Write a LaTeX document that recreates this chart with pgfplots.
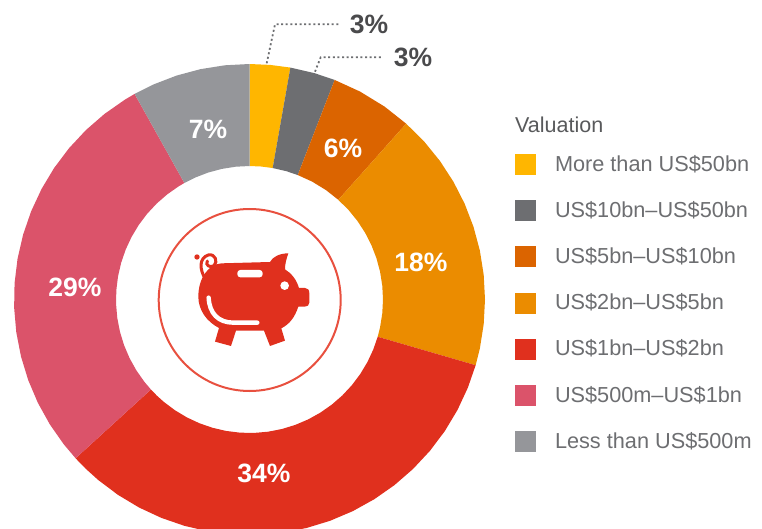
\documentclass[border=0pt]{standalone}
\usepackage{fontspec}
\setmainfont{Liberation Sans}
\usepackage{pgfplots}
\pgfplotsset{compat=1.18}
\usepgfplotslibrary{polar}
\definecolor{cgold}{HTML}{FFB600}
\definecolor{cslate}{HTML}{6D6E71}
\definecolor{cdorange}{HTML}{DB6400}
\definecolor{corange}{HTML}{EB8C00}
\definecolor{cred}{HTML}{E0301E}
\definecolor{cpink}{HTML}{DB536A}
\definecolor{cgrey}{HTML}{95969A}
\definecolor{cring}{HTML}{E8503F}
\definecolor{ctext}{HTML}{6D6E71}
\definecolor{ctitle}{HTML}{58595B}
\definecolor{clabel}{HTML}{4A4A4C}
\begin{document}
\begin{tikzpicture}[x=1pt,y=1pt]
\useasboundingbox (0,0) rectangle (762,528);
\clip (0,0) rectangle (762,528);
\begin{polaraxis}[
  at={(14pt,-7pt)}, anchor=south west,
  scale only axis, width=471pt, height=471pt,
  hide axis, clip=false,
  xmin=0, xmax=360, ymin=0, ymax=235.5,
  legend image code/.code={\fill[#1] (0pt,-8pt) rectangle (21pt,13pt);},
  legend cell align=left,
  legend style={
    at={(1.0637,0.8089)}, anchor=north west,
    draw=none, fill=none, inner sep=0pt, outer sep=0pt,
    row sep=21.2pt, column sep=19pt,
    font=\fontsize{21.7}{25}\selectfont, text=ctext,
    nodes={inner sep=0pt, outer sep=0pt, text height=16pt, text depth=8pt}
  },
]
\addplot[fill=cgold,draw=none] coordinates {(90,235.5)(85,235.5)(80,235.5)(80,133.5)(85,133.5)(90,133.5)};
\addlegendentry{More than US\$50bn}
\addplot[fill=cslate,draw=none] coordinates {(80,235.5)(74,235.5)(68.8,235.5)(68.8,133.5)(74,133.5)(80,133.5)};
\addlegendentry{US\$10bn–US\$50bn}
\addplot[fill=cdorange,draw=none] coordinates {(68.8,235.5)(62,235.5)(55,235.5)(48.3,235.5)(48.3,133.5)(55,133.5)(62,133.5)(68.8,133.5)};
\addlegendentry{US\$5bn–US\$10bn}
\addplot[fill=corange,draw=none] coordinates {(48.3,235.5)(42,235.5)(36,235.5)(30,235.5)(24,235.5)(18,235.5)(12,235.5)(6,235.5)(0,235.5)(-6,235.5)(-12,235.5)(-16.2,235.5)(-16.2,133.5)(-12,133.5)(-6,133.5)(0,133.5)(6,133.5)(12,133.5)(18,133.5)(24,133.5)(30,133.5)(36,133.5)(42,133.5)(48.3,133.5)};
\addlegendentry{US\$2bn–US\$5bn}
\addplot[fill=cred,draw=none] coordinates {(-16.2,235.5)(-22,235.5)(-28,235.5)(-34,235.5)(-40,235.5)(-46,235.5)(-52,235.5)(-58,235.5)(-64,235.5)(-70,235.5)(-76,235.5)(-82,235.5)(-88,235.5)(-94,235.5)(-100,235.5)(-106,235.5)(-112,235.5)(-118,235.5)(-124,235.5)(-130,235.5)(-134,235.5)(-137.6,235.5)(-137.6,133.5)(-134,133.5)(-130,133.5)(-124,133.5)(-118,133.5)(-112,133.5)(-106,133.5)(-100,133.5)(-94,133.5)(-88,133.5)(-82,133.5)(-76,133.5)(-70,133.5)(-64,133.5)(-58,133.5)(-52,133.5)(-46,133.5)(-40,133.5)(-34,133.5)(-28,133.5)(-22,133.5)(-16.2,133.5)};
\addlegendentry{US\$1bn–US\$2bn}
\addplot[fill=cpink,draw=none] coordinates {(-137.6,235.5)(-142,235.5)(-148,235.5)(-154,235.5)(-160,235.5)(-166,235.5)(-172,235.5)(-178,235.5)(-184,235.5)(-190,235.5)(-196,235.5)(-202,235.5)(-208,235.5)(-214,235.5)(-220,235.5)(-226,235.5)(-232,235.5)(-238,235.5)(-240.8,235.5)(-240.8,133.5)(-238,133.5)(-232,133.5)(-226,133.5)(-220,133.5)(-214,133.5)(-208,133.5)(-202,133.5)(-196,133.5)(-190,133.5)(-184,133.5)(-178,133.5)(-172,133.5)(-166,133.5)(-160,133.5)(-154,133.5)(-148,133.5)(-142,133.5)(-137.6,133.5)};
\addlegendentry{US\$500m–US\$1bn}
\addplot[fill=cgrey,draw=none] coordinates {(-240.8,235.5)(-246,235.5)(-252,235.5)(-258,235.5)(-264,235.5)(-270,235.5)(-270,133.5)(-264,133.5)(-258,133.5)(-252,133.5)(-246,133.5)(-240.8,133.5)};
\addlegendentry{Less than US\$500m}
\end{polaraxis}
% ring
\draw[cring,line width=2pt] (249.7,228) circle (91);
% pig icon (coordinates from a 3x crop)
\begin{scope}[shift={(150,328)},x=0.3333pt,y=-0.3333pt]
  \fill[cred] (215,190) -- (360,186)
    .. controls (368,170) and (390,160) .. (415,160)
    .. controls (410,175) and (405,190) .. (405,208)
    .. controls (425,220) and (440,240) .. (447,264)
    -- (465,264) .. controls (474,264) and (478,270) .. (478,280)
    -- (478,308) .. controls (478,316) and (472,320) .. (464,320)
    -- (445,320)
    .. controls (435,350) and (420,372) .. (394,385)
    -- (405,422) -- (360,438) -- (342,392) -- (258,392) -- (243,438) -- (195,425) -- (207,384)
    .. controls (170,365) and (145,330) .. (145,290)
    .. controls (145,235) and (175,192) .. (215,190) -- cycle;
  \fill[white,rounded corners=3pt] (262,210) rectangle (338,232);
  \fill[white] (404,257) circle (13);
  \draw[white,line width=4.4pt,line cap=round] (176,293) .. controls (178,340) and (205,368) .. (250,368) -- (322,368);
  \draw[cred,line width=3pt,line cap=round] (165,235) .. controls (150,210) and (145,175) .. (175,165)
    .. controls (195,160) and (205,185) .. (192,197) .. controls (180,205) and (165,195) .. (172,183);
  \fill[cred] (141,171) circle (8);
\end{scope}
% leader lines
\draw[cslate,line width=1.8pt,dash pattern=on 2pt off 2.6pt] (266.7,464.7) -- (275,503.7) -- (338.3,503.7);
\draw[cslate,line width=1.8pt,dash pattern=on 2pt off 2.6pt] (315,456.3) -- (320.7,470.7) -- (382.7,470.7);
% value labels
\begin{scope}[every node/.style={font=\fontsize{26.5}{30}\selectfont\bfseries,inner sep=0pt}]
\node[clabel] at (369,504) {3\%};
\node[clabel] at (413,471) {3\%};
\node[white] at (343,380) {6\%};
\node[white] at (421,266) {18\%};
\node[white] at (264,55) {34\%};
\node[white] at (75,241) {29\%};
\node[white] at (208,399) {7\%};
\end{scope}
\node[anchor=west,inner sep=0pt,text=ctitle,font=\fontsize{21.5}{25}\selectfont] at (515,403) {Valuation};
\end{tikzpicture}
\end{document}
